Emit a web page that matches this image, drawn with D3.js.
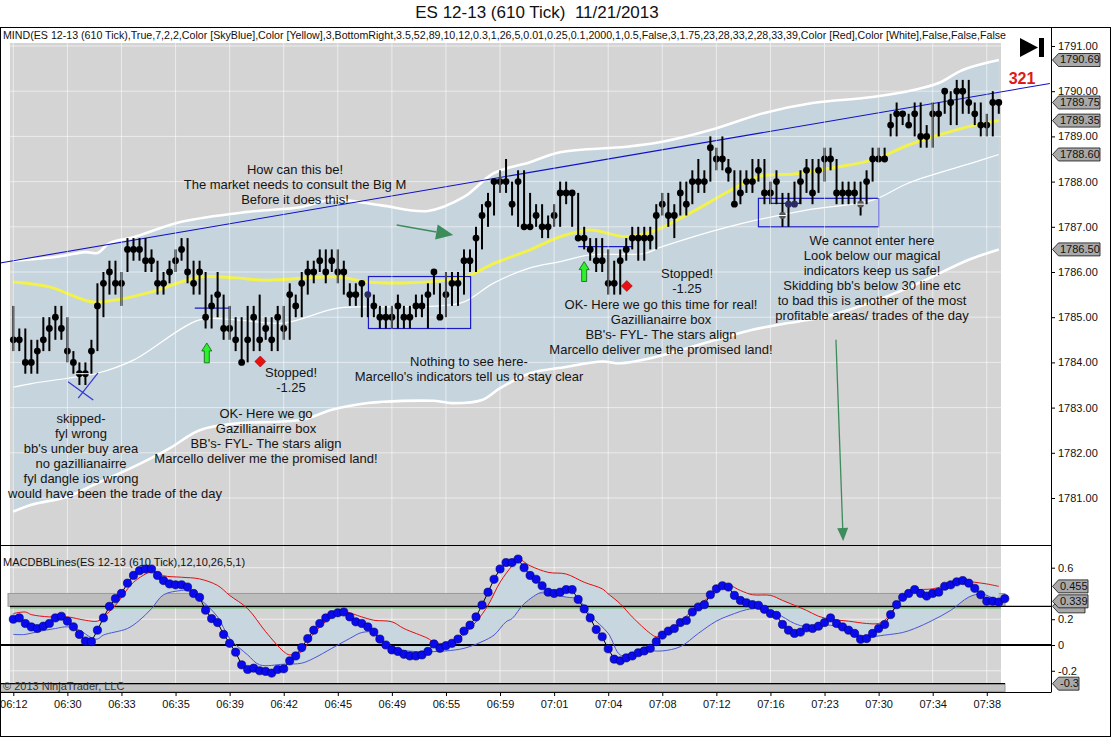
<!DOCTYPE html>
<html><head><meta charset="utf-8">
<script src="https://cdn.jsdelivr.net/npm/d3@7"></script>
<style>
body{margin:0;background:#fff}
svg{display:block;font-family:"Liberation Sans",Arial,sans-serif}
</style>
</head><body>
<svg id="c" width="1112" height="738"></svg>
<script>
// ---------------- DATA ----------------
const timeLabels = ["06:12","06:30","06:33","06:35","06:39","06:42","06:45","06:49","06:55","06:59","07:01","07:04","07:08","07:12","07:16","07:23","07:30","07:34","07:38"];
const priceTicks = [1781,1782,1783,1784,1785,1786,1787,1788,1789,1790,1791];
const macdTicks = [0.6,0.2,0,-0.2];

const closes = [
1784.5,1784.5,1784.0,1784.0,1784.25,1784.5,1784.75,1785.0,1784.75,1784.25,
1784.0,1783.75,1783.75,1784.25,1785.25,1785.75,1786.0,1785.75,1785.75,1786.5,
1786.5,1786.5,1786.25,1786.25,1785.75,1785.75,1786.0,1786.25,1786.5,1786.0,
1785.75,1786.0,1785.0,1785.25,1785.5,1784.75,1784.75,1784.5,1784.0,1784.5,
1785.0,1784.5,1784.75,1784.5,1785.0,1784.75,1785.5,1785.25,1785.75,1786.0,
1786.0,1786.25,1786.0,1786.25,1786.0,1786.0,1785.5,1785.5,1785.75,1785.5,
1785.25,1785.0,1785.0,1785.0,1785.25,1785.0,1785.0,1785.25,1785.25,1785.5,
1786.0,1785.0,1785.5,1785.75,1785.75,1786.25,1786.25,1786.75,1787.25,1787.5,
1788.0,1788.0,1788.0,1787.5,1788.0,1787.0,1787.0,1787.25,1787.0,1787.0,
1787.25,1787.75,1787.75,1787.75,1786.75,1786.75,1786.5,1786.25,1786.25,1785.75,
1785.75,1786.25,1786.5,1786.75,1786.75,1786.75,1786.75,1787.25,1787.5,1787.25,
1787.25,1787.75,1787.5,1788.0,1788.0,1788.0,1788.75,1788.5,1788.5,1788.25,
1787.5,1787.75,1788.0,1788.0,1788.25,1787.75,1787.75,1788.0,1787.25,1787.5,
1787.5,1788.0,1788.25,1787.75,1788.25,1788.5,1788.5,1787.75,1787.75,1787.75,
1787.75,1787.5,1788.0,1788.5,1788.5,1788.5,1789.25,1789.5,1789.5,1789.25,
1789.5,1789.0,1789.0,1789.5,1789.5,1790.0,1789.75,1790.0,1790.0,1789.75,
1789.5,1789.25,1789.25,1789.75,1789.75];
const highs = [
1785.25,1784.75,1784.75,1784.5,1784.5,1785.0,1785.0,1785.25,1785.25,1785.0,
1784.25,1784.0,1784.0,1784.5,1785.75,1786.0,1786.25,1786.25,1786.0,1786.75,
1786.75,1786.75,1786.75,1786.5,1786.25,1786.0,1786.25,1786.5,1786.75,1786.75,
1786.25,1786.25,1786.0,1785.5,1786.0,1785.5,1785.25,1785.0,1785.0,1785.25,
1785.25,1785.5,1785.0,1785.0,1785.25,1785.25,1785.75,1785.5,1786.0,1786.25,
1786.25,1786.5,1786.5,1786.5,1786.5,1786.25,1785.75,1785.75,1785.75,1785.5,
1785.5,1785.25,1785.25,1785.25,1785.5,1785.25,1785.25,1785.5,1785.5,1785.75,
1786.0,1785.75,1786.0,1786.0,1786.0,1786.5,1786.5,1787.0,1787.5,1787.75,
1788.0,1788.25,1788.5,1788.0,1788.25,1788.25,1787.75,1787.5,1787.5,1787.25,
1787.5,1788.0,1788.0,1787.75,1787.75,1787.0,1786.75,1786.75,1786.75,1786.5,
1786.25,1786.5,1786.75,1787.0,1787.0,1787.0,1787.0,1787.5,1787.75,1787.75,
1787.5,1788.0,1788.0,1788.25,1788.5,1788.25,1789.0,1788.75,1789.0,1788.5,
1788.25,1788.25,1788.25,1788.5,1788.5,1788.5,1788.0,1788.25,1787.75,1787.75,
1788.0,1788.25,1788.5,1788.5,1788.5,1788.75,1788.75,1788.5,1788.0,1788.0,
1788.0,1788.0,1788.25,1788.75,1788.75,1788.75,1789.5,1789.75,1789.5,1789.5,
1789.75,1789.75,1789.25,1789.75,1789.75,1790.0,1790.0,1790.25,1790.25,1790.25,
1789.75,1789.75,1789.5,1790.0,1789.75];
const lows = [
1784.25,1784.25,1783.75,1783.75,1783.75,1784.25,1784.25,1784.5,1784.5,1784.0,
1783.75,1783.5,1783.5,1783.75,1784.25,1785.0,1785.5,1785.5,1785.25,1786.0,
1786.25,1786.25,1786.0,1786.0,1785.5,1785.5,1785.75,1786.0,1786.25,1785.75,
1785.5,1785.5,1784.75,1784.75,1785.0,1784.5,1784.5,1784.25,1784.0,1784.0,
1784.25,1784.25,1784.5,1784.25,1784.25,1784.5,1784.5,1785.0,1785.0,1785.5,
1785.75,1786.0,1785.75,1786.0,1785.75,1785.5,1785.25,1785.25,1785.0,1785.0,
1785.0,1784.75,1784.75,1784.75,1784.75,1784.75,1784.75,1785.0,1785.0,1784.75,
1785.5,1785.0,1785.0,1785.25,1785.25,1785.5,1786.0,1786.0,1786.5,1787.0,
1787.25,1787.75,1787.75,1787.25,1787.0,1787.0,1787.0,1787.0,1786.75,1786.75,
1787.0,1787.0,1787.5,1787.0,1786.75,1786.5,1786.25,1786.0,1786.0,1785.5,
1785.5,1785.5,1786.25,1786.5,1786.25,1786.25,1786.5,1786.5,1787.25,1787.0,
1786.75,1787.25,1787.25,1787.5,1787.75,1787.75,1788.0,1788.25,1788.25,1788.0,
1787.5,1787.5,1787.75,1787.75,1788.0,1787.5,1787.5,1787.5,1787.0,1787.0,
1787.5,1787.5,1787.75,1787.5,1787.75,1788.0,1788.25,1787.5,1787.5,1787.5,
1787.5,1787.25,1787.5,1788.0,1788.5,1788.5,1789.0,1789.0,1789.25,1789.25,
1789.0,1788.75,1788.75,1788.75,1789.0,1789.5,1789.25,1789.25,1789.5,1789.5,
1789.25,1789.0,1789.0,1789.0,1789.5];
const navyBars = [59,129,130];
const markedBars = [11,12,128,141];

// MIND channel lines: [bar index, price]
const upperBand = [[0,1786.25],[7,1786.33],[12,1786.44],[14,1786.42],[16,1786.64],[20,1786.77],[28,1787.11],[39,1787.33],[48,1787.44],[53,1787.60],[61,1787.48],[69,1787.35],[75,1787.66],[80,1788.19],[86,1788.43],[91,1788.65],[102,1788.77],[108,1788.88],[116,1789.14],[125,1789.52],[133,1789.74],[143,1789.87],[150,1790.03],[154,1790.18],[158,1790.47],[164,1790.69]];
const lowerBand = [[0,1780.70],[3,1780.85],[9,1781.03],[14,1781.33],[20,1781.69],[26,1782.10],[31,1782.50],[37,1782.65],[48,1782.73],[53,1782.95],[59,1783.10],[70,1783.15],[73,1783.10],[78,1783.17],[81,1783.43],[86,1783.76],[92,1783.90],[98,1784.02],[101,1783.98],[106,1784.09],[111,1784.27],[117,1784.50],[123,1784.72],[128,1784.85],[134,1784.98],[139,1785.16],[148,1785.60],[153,1785.90],[159,1786.27],[164,1786.50]];
const innerBand = [[0,1783.45],[3,1783.53],[9,1783.65],[14,1783.76],[20,1784.05],[31,1784.94],[37,1784.94],[45,1784.87],[54,1785.20],[64,1785.23],[71,1785.25],[75,1785.34],[80,1785.76],[86,1786.09],[91,1786.23],[96,1786.38],[105,1786.41],[108,1786.56],[119,1787.00],[132,1787.37],[143,1787.59],[149,1787.97],[160,1788.43],[164,1788.60]];
const midLine = [[0,1785.78],[6,1785.67],[13,1785.34],[17,1785.38],[23,1785.56],[31,1785.89],[37,1785.87],[42,1785.82],[54,1785.89],[59,1785.78],[66,1785.76],[72,1785.82],[76,1785.93],[80,1786.19],[86,1786.49],[91,1786.78],[96,1786.93],[102,1786.78],[107,1786.93],[113,1787.33],[119,1787.78],[124,1788.11],[130,1788.17],[137,1788.32],[143,1788.48],[149,1788.81],[154,1789.03],[160,1789.25],[164,1789.35]];
const trendLine = [[-2.2,1786.2],[172.5,1790.17]];

// MACD panel
const macd = [
0.20,0.21,0.167,0.14,0.128,0.146,0.167,0.21,0.223,0.185,
0.141,0.082,0.031,0.026,0.115,0.21,0.30,0.36,0.40,0.48,
0.54,0.577,0.59,0.59,0.54,0.50,0.474,0.467,0.467,0.45,
0.40,0.37,0.27,0.205,0.174,0.082,0.013,-0.056,-0.154,-0.19,
-0.18,-0.20,-0.205,-0.218,-0.19,-0.185,-0.123,-0.085,-0.02,0.05,
0.115,0.167,0.21,0.236,0.25,0.256,0.218,0.18,0.167,0.14,
0.10,0.046,0.0,-0.038,-0.05,-0.072,-0.085,-0.085,-0.077,-0.05,
0.008,-0.026,-0.005,0.013,0.046,0.108,0.154,0.218,0.31,0.41,
0.51,0.59,0.64,0.64,0.667,0.60,0.54,0.51,0.46,0.41,
0.40,0.41,0.43,0.43,0.354,0.28,0.21,0.12,0.064,-0.03,
-0.11,-0.123,-0.10,-0.085,-0.06,-0.046,-0.026,0.026,0.077,0.108,
0.128,0.174,0.19,0.256,0.295,0.313,0.39,0.436,0.46,0.45,
0.385,0.346,0.328,0.313,0.308,0.277,0.244,0.23,0.16,0.115,
0.09,0.10,0.133,0.128,0.146,0.174,0.21,0.167,0.14,0.115,
0.09,0.044,0.05,0.09,0.128,0.159,0.236,0.313,0.37,0.40,
0.43,0.40,0.38,0.40,0.41,0.456,0.467,0.49,0.50,0.48,
0.44,0.39,0.34,0.34,0.333,0.36];
const macdUpper = [[0,0.244],[2,0.256],[3,0.236],[6,0.218],[9,0.218],[12,0.192],[14,0.185],[15,0.218],[17,0.308],[20,0.487],[23,0.569],[24,0.564],[25,0.538],[28,0.526],[31,0.513],[34,0.462],[36,0.385],[39,0.282],[42,0.103],[45,-0.051],[46,-0.077],[48,-0.051],[50,0.09],[53,0.218],[55,0.256],[58,0.218],[60,0.192],[63,0.18],[65,0.128],[69,0.051],[70,0.021],[72,0.013],[74,0.046],[77,0.18],[79,0.308],[81,0.487],[83,0.615],[84,0.667],[86,0.615],[89,0.564],[92,0.551],[95,0.487],[98,0.436],[99,0.397],[101,0.32],[103,0.218],[106,0.09],[107,0.064],[109,0.09],[111,0.18],[114,0.308],[117,0.41],[119,0.462],[121,0.423],[123,0.39],[126,0.385],[128,0.346],[130,0.308],[132,0.269],[134,0.223],[136,0.2],[139,0.185],[142,0.167],[144,0.167],[145,0.192],[148,0.359],[150,0.423],[153,0.436],[156,0.474],[158,0.5],[160,0.487],[162,0.474],[164,0.455]];
const macdLower = [[0,0.082],[2,0.082],[4,0.103],[7,0.128],[9,0.141],[11,0.115],[13,0.056],[14,0.046],[15,0.077],[19,0.128],[21,0.192],[23,0.282],[25,0.39],[28,0.423],[29,0.423],[31,0.359],[34,0.218],[36,0.051],[39,-0.077],[41,-0.154],[45,-0.149],[48,-0.141],[50,-0.103],[53,-0.026],[56,0.051],[58,0.097],[60,0.097],[61,0.051],[64,-0.031],[67,-0.051],[70,-0.051],[72,-0.046],[75,-0.026],[78,0.026],[80,0.077],[82,0.18],[83,0.205],[85,0.32],[88,0.41],[89,0.397],[92,0.372],[94,0.354],[96,0.231],[99,0.09],[101,-0.077],[103,-0.077],[105,-0.046],[108,-0.046],[111,-0.013],[114,0.09],[117,0.185],[120,0.244],[122,0.274],[124,0.282],[127,0.244],[130,0.167],[132,0.141],[134,0.146],[136,0.154],[139,0.108],[142,0.064],[145,0.077],[148,0.097],[150,0.128],[153,0.192],[156,0.269],[159,0.372],[161,0.397],[162,0.385],[164,0.339]];
const macdBandTop = 0.4, macdBandBottom = 0.3, macdFloor = -0.3, macdFloorBottom = -0.36;

const priceMarkers = [[1790.69,"1790.69"],[1789.75,"1789.75"],[1789.35,"1789.35"],[1788.60,"1788.60"],[1786.50,"1786.50"]];
const macdMarkers = [[0.3,""],[0.455,"0.455"],[0.339,"0.339"],[-0.3,"-0.3"]];

// ---------------- DRAW ----------------
const svg = d3.select("#c");
const FONT = '"Liberation Sans",Arial,sans-serif';
const x = d3.scaleLinear().domain([0,164]).range([13.3,998.8]);
const yP = d3.scaleLinear().domain([1781,1791]).range([498,46]);
const yM = d3.scaleLinear().domain([0,0.6]).range([645,567.7]);
const AX = 1051;

svg.append("rect").attr("width",1112).attr("height",738).attr("fill","#fff");

// title
svg.append("text").attr("x",537).attr("y",14).attr("text-anchor","middle").attr("dominant-baseline","middle")
  .attr("font-size",17).attr("fill","#111").style("white-space","pre").text("ES 12-13 (610 Tick)  11/21/2013");

// panel backgrounds
svg.append("rect").attr("x",10).attr("y",43).attr("width",991).attr("height",502).attr("fill","#d4d4d4");
svg.append("rect").attr("x",10).attr("y",546).attr("width",991).attr("height",146).attr("fill","#d4d4d4");

// ---------- upper panel ----------
const defs = svg.append("defs");
defs.append("clipPath").attr("id","cpU").append("rect").attr("x",0).attr("y",28).attr("width",AX).attr("height",517);
defs.append("clipPath").attr("id","cpL").append("rect").attr("x",0).attr("y",546).attr("width",AX).attr("height",146);
const gU = svg.append("g").attr("clip-path","url(#cpU)");

const lineP = d3.line().x(d=>x(d[0])).y(d=>yP(d[1])).curve(d3.curveCatmullRom);
const bandPath = lineP(upperBand) + lineP(lowerBand.slice().reverse()).replace(/^M/,"L") + "Z";
gU.append("path").attr("d",bandPath).attr("fill","#c6d4dd");

// grid
const tickIdx = d3.range(0,163,9);
gU.selectAll(".hg").data(priceTicks).join("line").attr("x1",10).attr("x2",1001)
  .attr("y1",d=>yP(d)).attr("y2",d=>yP(d)).attr("stroke","#fff").attr("stroke-opacity",0.55).attr("stroke-width",1);
svg.selectAll(".vg").data(tickIdx).join("line").attr("x1",d=>x(d)).attr("x2",d=>x(d))
  .attr("y1",43).attr("y2",545).attr("stroke","#fff").attr("stroke-opacity",0.55);
svg.selectAll(".vg2").data(tickIdx).join("line").attr("x1",d=>x(d)).attr("x2",d=>x(d))
  .attr("y1",546).attr("y2",692).attr("stroke","#fff").attr("stroke-opacity",0.6);

// bands
gU.append("path").attr("d",lineP(upperBand)).attr("fill","none").attr("stroke","#fff").attr("stroke-width",2.6);
gU.append("path").attr("d",lineP(lowerBand)).attr("fill","none").attr("stroke","#fff").attr("stroke-width",2.6);
gU.append("path").attr("d",lineP(innerBand)).attr("fill","none").attr("stroke","#fff").attr("stroke-width",1.2);
gU.append("path").attr("d",lineP(midLine)).attr("fill","none").attr("stroke","#f2f24a").attr("stroke-width",3);
gU.append("path").attr("d",d3.line().x(d=>x(d[0])).y(d=>yP(d[1]))(trendLine)).attr("fill","none").attr("stroke","#1010c8").attr("stroke-width",1.1);

// boxes & lines
const blue = "#1c1cc4";
const box = (i0,i1,p0,p1)=>gU.append("rect").attr("x",x(i0)).attr("y",yP(p0)).attr("width",x(i1)-x(i0)).attr("height",yP(p1)-yP(p0))
  .attr("fill","none").attr("stroke",blue).attr("stroke-width",1.2);
box(59.1,76.1,1785.90,1784.75);
box(124,144,1787.63,1787.00);
const seg = (pts,c,w)=>gU.append("path").attr("d",d3.line().x(d=>x(d[0])).y(d=>yP(d[1]))(pts)).attr("fill","none").attr("stroke",c||blue).attr("stroke-width",w||1.3);
seg([[30.2,1785.2],[36.1,1785.2]]);
seg([[94,1786.56],[103,1786.56]]);
seg([[125.9,1787.63],[125.9,1787.52],[130.9,1787.52],[130.9,1787.63]]);
seg([[9.1,1783.57],[13.3,1783.17]],"#3535d0",1.2);
seg([[14.1,1783.77],[10.8,1783.21]],"#3535d0",1.2);

// price bars
const idx = d3.range(closes.length);
gU.selectAll(".bar").data(idx).join("line").attr("x1",i=>x(i)).attr("x2",i=>x(i))
  .attr("y1",i=>yP(highs[i])).attr("y2",i=>yP(lows[i])).attr("stroke","#000").attr("stroke-width",2);
gU.selectAll(".dot").data(idx).join("circle").attr("cx",i=>x(i)).attr("cy",i=>yP(closes[i])).attr("r",3.4)
  .attr("fill",i=>navyBars.includes(i)?"#2b2b60":(markedBars.includes(i)&&i>100?"#555":"#000"));
gU.selectAll(".mk").data(markedBars).join("line").attr("x1",i=>x(i)-4).attr("x2",i=>x(i)+4)
  .attr("y1",i=>yP(closes[i])).attr("y2",i=>yP(closes[i])).attr("stroke","#fff").attr("stroke-width",1);

// green up arrows
const upArrow = (i,pTip,pBase)=>{
  const cx=x(i), t=yP(pTip), b=yP(pBase);
  gU.append("path").attr("d",`M${cx},${t}L${cx+5},${t+8}L${cx+2.5},${t+8}L${cx+2.5},${b}L${cx-2.5},${b}L${cx-2.5},${t+8}L${cx-5},${t+8}Z`)
    .attr("fill","#2ef02e").attr("stroke","#126012").attr("stroke-width",0.8);
};
upArrow(32.2,1784.43,1783.99);
upArrow(95.0,1786.23,1785.79);
// red diamonds
const diamond = (i,p)=>{const cx=x(i),cy=yP(p),h=5.5;
  gU.append("path").attr("d",`M${cx},${cy-h}L${cx+h},${cy}L${cx},${cy+h}L${cx-h},${cy}Z`).attr("fill","#e81010").attr("stroke","#800").attr("stroke-width",0.5);};
diamond(41.1,1784.02);
diamond(102.1,1785.69);

// dark green arrows
const gArrow = (a,b,len,wid)=>{
  const x1=x(a[0]),y1=yP(a[1]),x2=x(b[0]),y2=yP(b[1]);
  const dx=x2-x1,dy=y2-y1,L=Math.hypot(dx,dy),ux=dx/L,uy=dy/L;
  const bx=x2-ux*len,by=y2-uy*len;
  svg.append("line").attr("x1",x1).attr("y1",y1).attr("x2",bx).attr("y2",by).attr("stroke","#3c8c5c").attr("stroke-width",1.3);
  svg.append("path").attr("d",`M${x2},${y2}L${bx-uy*wid/2},${by+ux*wid/2}L${bx+uy*wid/2},${by-ux*wid/2}Z`).attr("fill","#3c8c5c");
};
gArrow([63.8,1787.04],[73.2,1786.82],17,15);
gArrow([136.9,1784.50],[138.1,1780.05],13,11);

// annotations
const note = (cx,cy,lines,anchor)=>{
  lines.forEach((t,k)=>svg.append("text").attr("x",cx).attr("y",cy+k*15).attr("text-anchor",anchor||"middle")
    .attr("dominant-baseline","middle").attr("font-size",13).attr("fill","#151515").text(t));
};
note(295,171,["How can this be!","The market needs to consult the Big M","Before it does this!"]);
note(81,420,["skipped-","fyl wrong","bb's under buy area","no gazillianairre","fyl dangle ios wrong"]);
note(115,495,["would have been the trade of the day"]);
note(291,374,["Stopped!","-1.25"]);
note(266,415,["OK- Here we go","Gazillianairre box","BB's- FYL- The stars align","Marcello deliver me the promised land!"]);
note(469,363,["Nothing to see here-","Marcello's indicators tell us to stay clear"]);
note(687,275,["Stopped!","-1.25"]);
note(661,306,["OK- Here we go this time for real!","Gazillianairre box","BB's- FYL- The stars align","Marcello deliver me the promised land!"]);
note(872,242,["We cannot enter here","Look below our magical","indicators keep us safe!","Skidding bb's below 30 line etc","to bad this is another of the most","profitable areas/ trades of the day"]);

// header text
svg.append("text").attr("x",3).attr("y",36).attr("dominant-baseline","middle").attr("font-size",11).attr("fill","#111")
  .attr("textLength",1003).attr("lengthAdjust","spacingAndGlyphs")
  .text("MIND(ES 12-13 (610 Tick),True,7,2,2,Color [SkyBlue],Color [Yellow],3,BottomRight,3.5,52,89,10,12,0.3,1,26,5,0.01,0.25,0.1,2000,1,0.5,False,3,1.75,23,28,33,2,28,33,39,Color [Red],Color [White],False,False,False");

// play icon
svg.append("path").attr("d","M1020,38L1020,57L1038,47.5Z").attr("fill","#000");
svg.append("rect").attr("x",1039).attr("y",38).attr("width",5).attr("height",19).attr("fill","#000");
svg.append("text").attr("x",1022).attr("y",80).attr("text-anchor","middle").attr("dominant-baseline","middle")
  .attr("font-size",16).attr("font-weight","bold").attr("fill","#e01818").text("321");

// right price axis
const axU = svg.append("g").attr("transform",`translate(${AX},0)`)
  .call(d3.axisRight(yP).tickValues(priceTicks).tickFormat(d3.format(".2f")).tickSize(4).tickPadding(3).tickSizeOuter(0));
axU.select(".domain").remove();
axU.selectAll("text").attr("font-size",11).attr("font-family",FONT).attr("fill","#111");
const marker = (y,t,w)=>{
  svg.append("path").attr("d",`M${AX+1.5},${y}L${AX+7.5},${y-6.5}L${AX+w},${y-6.5}L${AX+w},${y+6.5}L${AX+7.5},${y+6.5}Z`)
    .attr("fill","#a9a9a9").attr("stroke","#111").attr("stroke-width",0.8);
  if (t) svg.append("text").attr("x",AX+9).attr("y",y+0.5).attr("dominant-baseline","middle").attr("font-size",11).attr("fill","#111").text(t);
};
priceMarkers.forEach(d=>marker(yP(d[0]),d[1],49));

// ---------- lower panel ----------
const gL = svg.append("g").attr("clip-path","url(#cpL)");
gL.append("rect").attr("x",8).attr("y",yM(macdBandTop)).attr("width",997).attr("height",yM(macdBandBottom)-yM(macdBandTop))
  .attr("fill","#bdbdbd").attr("stroke","#9a9a9a").attr("stroke-width",1);
gL.append("rect").attr("x",0).attr("y",yM(macdFloor)).attr("width",1005).attr("height",yM(macdFloorBottom)-yM(macdFloor))
  .attr("fill","#c4c4c4").attr("stroke","#9a9a9a").attr("stroke-width",1);
gL.selectAll(".mg").data([0.6,0.2,-0.2]).join("line").attr("x1",10).attr("x2",1001).attr("y1",d=>yM(d)).attr("y2",d=>yM(d))
  .attr("stroke","#fff").attr("stroke-opacity",0.6);

const lineM = d3.line().x(d=>x(d[0])).y(d=>yM(d[1])).curve(d3.curveCatmullRom);
gL.append("path").attr("d",lineM(macdUpper)+lineM(macdLower.slice().reverse()).replace(/^M/,"L")+"Z").attr("fill","#c7d6df");
gL.append("line").attr("x1",10).attr("x2",AX).attr("y1",yM(macdBandBottom)).attr("y2",yM(macdBandBottom)).attr("stroke","#000").attr("stroke-width",1.4);
gL.append("line").attr("x1",10).attr("x2",1001).attr("y1",yM(macdBandBottom)+1.5).attr("y2",yM(macdBandBottom)+1.5).attr("stroke","#3cb83c").attr("stroke-width",1);
gL.append("line").attr("x1",0).attr("x2",AX).attr("y1",yM(0)).attr("y2",yM(0)).attr("stroke","#000").attr("stroke-width",2.2);
gL.append("line").attr("x1",0).attr("x2",1005).attr("y1",yM(macdFloor)).attr("y2",yM(macdFloor)).attr("stroke","#000").attr("stroke-width",1.2);
gL.append("path").attr("d",lineM(macdUpper)).attr("fill","none").attr("stroke","#e01010").attr("stroke-width",1);
gL.append("path").attr("d",lineM(macdLower)).attr("fill","none").attr("stroke","#4a55d8").attr("stroke-width",1);
const macdPts = macd.map((v,i)=>[i,v]);
gL.append("path").attr("d",d3.line().x(d=>x(d[0])).y(d=>yM(d[1]))(macdPts)).attr("fill","none").attr("stroke","#000").attr("stroke-width",1);
gL.selectAll(".md").data(macdPts).join("circle").attr("cx",d=>x(d[0])).attr("cy",d=>yM(d[1])).attr("r",4.1)
  .attr("fill","#0a0aee").attr("stroke","#000066").attr("stroke-width",0.6);

svg.append("text").attr("x",3).attr("y",563).attr("dominant-baseline","middle").attr("font-size",11).attr("fill","#111")
  .text("MACDBBLines(ES 12-13 (610 Tick),12,10,26,5,1)");
svg.append("text").attr("x",3).attr("y",687).attr("dominant-baseline","middle").attr("font-size",11).attr("fill","#333")
  .text("© 2013 NinjaTrader, LLC");

const axL = svg.append("g").attr("transform",`translate(${AX},0)`)
  .call(d3.axisRight(yM).tickValues(macdTicks).tickFormat(d=>String(d)).tickSize(4).tickPadding(3).tickSizeOuter(0));
axL.select(".domain").remove();
axL.selectAll("text").attr("font-size",11).attr("font-family",FONT).attr("fill","#111");
macdMarkers.forEach(d=>marker(yM(d[0]),d[1],d[1].length>4?37:(d[1]===""?34:28)));

// x axis
const axB = svg.append("g").attr("transform","translate(0,692)")
  .call(d3.axisBottom(x).tickValues(tickIdx).tickFormat((d,k)=>timeLabels[k]).tickSize(4).tickPadding(4).tickSizeOuter(0));
axB.select(".domain").remove();
axB.selectAll("text").attr("font-size",11).attr("font-family",FONT).attr("fill","#111");

// frame & separators
svg.append("line").attr("x1",0).attr("x2",AX).attr("y1",545.5).attr("y2",545.5).attr("stroke","#000");
svg.append("line").attr("x1",0).attr("x2",AX).attr("y1",692.5).attr("y2",692.5).attr("stroke","#000");
svg.append("line").attr("x1",AX+0.5).attr("x2",AX+0.5).attr("y1",27).attr("y2",692.5).attr("stroke","#000");
svg.append("rect").attr("x",0.5).attr("y",27.5).attr("width",1110).attr("height",709).attr("fill","none").attr("stroke","#000");
</script>
</body></html>
